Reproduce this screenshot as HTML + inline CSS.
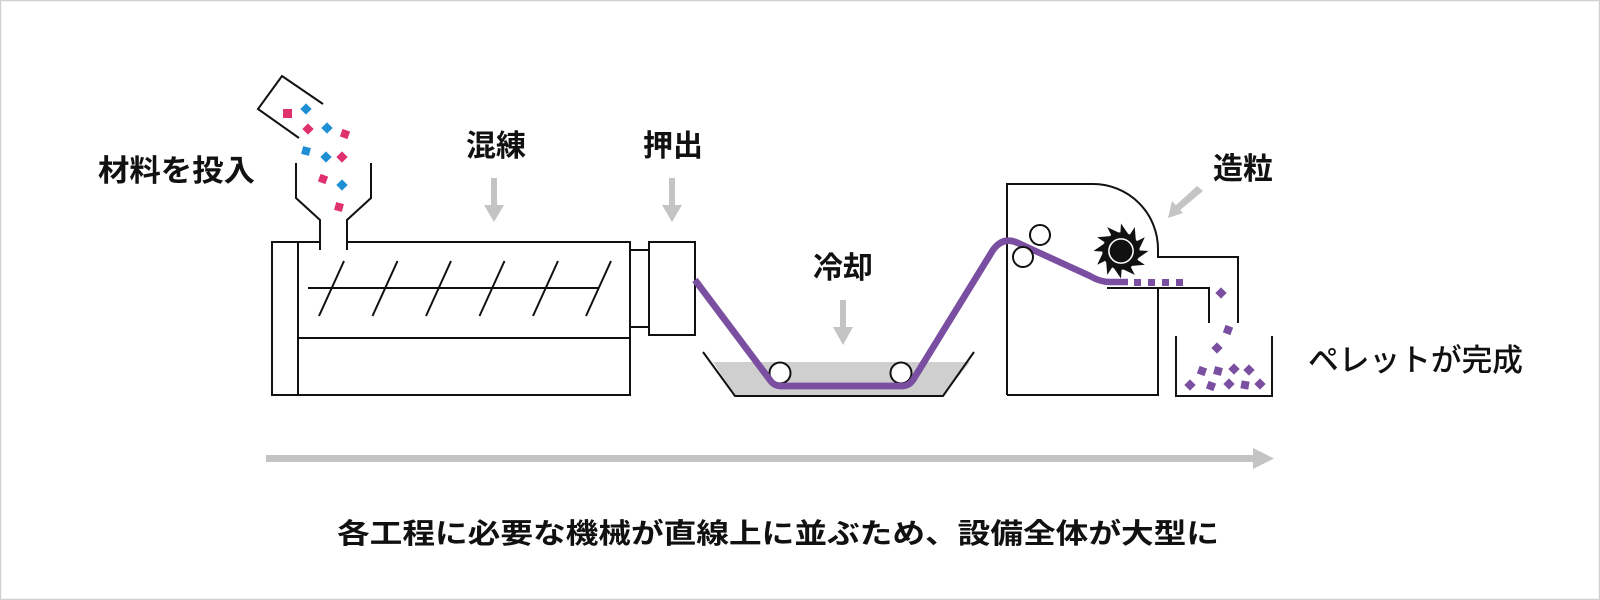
<!DOCTYPE html>
<html><head><meta charset="utf-8"><style>
html,body{margin:0;padding:0;background:#fff;}
svg{display:block;}
text{font-family:"Liberation Sans","Noto Sans CJK JP",sans-serif;font-weight:bold;fill:#111;}
</style></head><body>
<svg width="1600" height="600" viewBox="0 0 1600 600" xmlns="http://www.w3.org/2000/svg">
<rect x="0.5" y="0.5" width="1599" height="599" fill="#fff" stroke="#d0d0d0" stroke-width="1.5"/>
<g fill="none" stroke="#111" stroke-width="2">
 <polyline points="323,104 282,76 258,109 299,138"/>
 <polyline points="296,163 296,198 320,220 320,250"/>
 <polyline points="371,163 371,198 347,220 347,250"/>
 <polyline points="320,242 272,242 272,395 630,395 630,242 347,242"/>
 <line x1="298" y1="242" x2="298" y2="395"/>
 <line x1="298" y1="338" x2="630" y2="338"/>
 <line x1="308" y1="288" x2="598" y2="288"/>
 <line x1="319" y1="316" x2="344" y2="261"/>
 <line x1="372.5" y1="316" x2="397.5" y2="261"/>
 <line x1="426" y1="316" x2="451" y2="261"/>
 <line x1="479.5" y1="316" x2="504.5" y2="261"/>
 <line x1="533" y1="316" x2="558" y2="261"/>
 <line x1="586" y1="316" x2="611" y2="261"/>
 <rect x="630" y="250" width="19" height="77"/>
 <rect x="649" y="242" width="46" height="93"/>
</g>
<g>
 <rect x="283" y="109" width="9" height="9" fill="#e0306e"/>
 <rect x="302" y="105" width="8" height="8" fill="#1e8fd5" transform="rotate(45 306 109)"/>
 <rect x="304" y="125" width="8" height="8" fill="#e0306e" transform="rotate(45 308 129)"/>
 <rect x="323" y="124" width="8" height="8" fill="#1e8fd5" transform="rotate(45 327 128)"/>
 <rect x="341" y="130" width="8" height="8" fill="#e0306e" transform="rotate(20 345 134)"/>
 <rect x="302" y="147" width="8" height="8" fill="#1e8fd5" transform="rotate(15 306 151)"/>
 <rect x="322" y="153" width="8" height="8" fill="#1e8fd5" transform="rotate(45 326 157)"/>
 <rect x="338" y="153" width="8" height="8" fill="#e0306e" transform="rotate(45 342 157)"/>
 <rect x="319" y="175" width="8" height="8" fill="#e0306e" transform="rotate(20 323 179)"/>
 <rect x="338" y="181" width="8" height="8" fill="#1e8fd5" transform="rotate(45 342 185)"/>
 <rect x="335" y="203" width="8" height="8" fill="#e0306e" transform="rotate(15 339 207)"/>
</g>
<g fill="#c4c4c4" stroke="none">
 <rect x="491" y="178" width="6" height="30"/><polygon points="484,205 504,205 494,222"/>
 <rect x="669" y="178" width="6" height="30"/><polygon points="662,205 682,205 672,222"/>
 <rect x="840" y="300" width="6" height="30"/><polygon points="833,327 853,327 843,345"/>
 <polygon points="1197,186 1203,191 1179,211 1175,206"/>
 <polygon points="1168,218 1172,201 1183,213"/>
 <rect x="266" y="455" width="990" height="7"/>
 <polygon points="1253,448 1274,458.5 1253,469"/>
</g>
<polygon points="713,362 970,362 943,396 735,396" fill="#cfcfcf"/>
<polyline points="703,352 735,396 943,396 974,352" fill="none" stroke="#111" stroke-width="2"/>
<g fill="none" stroke="#111" stroke-width="2">
 <path d="M1007,395 L1007,184 L1093,184 A65,65 0 0 1 1158,249 L1158,257 L1238,257 L1238,323"/>
 <polyline points="1158,288 1158,395 1007,395"/>
 <polyline points="1107,288 1209,288 1209,323"/>
 <polyline points="1176,336 1176,396 1272,396 1272,336"/>
</g>
<path d="M695,280 L770,380 Q774,386 781,386 L902,386 Q909,386 913,380 L993,250 Q1003,236 1018,243 L1090,276 Q1100,282 1110,282 L1128,282" fill="none" stroke="#7a4ea0" stroke-width="6.5" stroke-linejoin="round"/>
<g fill="#fff" stroke="#111" stroke-width="2">
 <circle cx="780" cy="373" r="10.5"/><circle cx="901" cy="373" r="10.5"/>
 <circle cx="1040" cy="235" r="10"/><circle cx="1023" cy="257" r="10"/>
</g>
<path d="M695,280 L770,380 Q774,386 781,386 L902,386 Q909,386 913,380 L993,250 Q1003,236 1018,243" fill="none" stroke="#7a4ea0" stroke-width="6.5" stroke-linejoin="round"/>
<g transform="translate(1121,251) scale(1.1)">
 <polygon fill="#111" points="25,0 14.1,7.5 21.65,12.5 8.5,13.6 12.5,21.65 0.6,16 0,25 -7.5,14.1 -12.5,21.65 -13.6,8.5 -21.65,12.5 -16,0.6 -25,0 -14.1,-7.5 -21.65,-12.5 -8.5,-13.6 -12.5,-21.65 -0.6,-16 0,-25 7.5,-14.1 12.5,-21.65 13.6,-8.5 21.65,-12.5 16,-0.6"/>
 <circle r="17" fill="#111"/>
 <circle r="11" fill="none" stroke="#fff" stroke-width="1.4"/>
</g>
<g fill="#7a4ea0">
 <rect x="1134" y="279" width="7" height="7"/><rect x="1148" y="279" width="7" height="7"/>
 <rect x="1162" y="279" width="7" height="7"/><rect x="1176" y="279" width="7" height="7"/>
 <rect x="1217" y="289" width="8" height="8" transform="rotate(45 1221 293)"/>
 <rect x="1224" y="326" width="8" height="8" transform="rotate(20 1228 330)"/>
 <rect x="1213" y="344" width="8" height="8" transform="rotate(45 1217 348)"/>
 <rect x="1198" y="367" width="8" height="8" transform="rotate(20 1202 371)"/>
 <rect x="1214" y="367" width="8" height="8" transform="rotate(15 1218 371)"/>
 <rect x="1230" y="365" width="8" height="8" transform="rotate(45 1234 369)"/>
 <rect x="1245" y="366" width="8" height="8" transform="rotate(45 1249 370)"/>
 <rect x="1186" y="381" width="8" height="8" transform="rotate(45 1190 385)"/>
 <rect x="1207" y="382" width="8" height="8" transform="rotate(20 1211 386)"/>
 <rect x="1225" y="380" width="8" height="8" transform="rotate(45 1229 384)"/>
 <rect x="1241" y="381" width="8" height="8" transform="rotate(10 1245 385)"/>
 <rect x="1256" y="380" width="8" height="8" transform="rotate(45 1260 384)"/>
</g>
<g font-size="30">
 <text x="98" y="181" textLength="157" lengthAdjust="spacingAndGlyphs">材料を投入</text>
 <text x="496" y="156" text-anchor="middle">混練</text>
 <text x="643" y="156">押出</text>
 <text x="843" y="278" text-anchor="middle">冷却</text>
 <text x="1213" y="179">造粒</text>
 <text x="1308" y="371" font-size="31" style="font-weight:500" textLength="215" lengthAdjust="spacingAndGlyphs">ペレットが完成</text>
 <text x="778" y="543" font-size="28" text-anchor="middle" textLength="882" lengthAdjust="spacingAndGlyphs">各工程に必要な機械が直線上に並ぶため、設備全体が大型に</text>
</g>
</svg>
</body></html>
